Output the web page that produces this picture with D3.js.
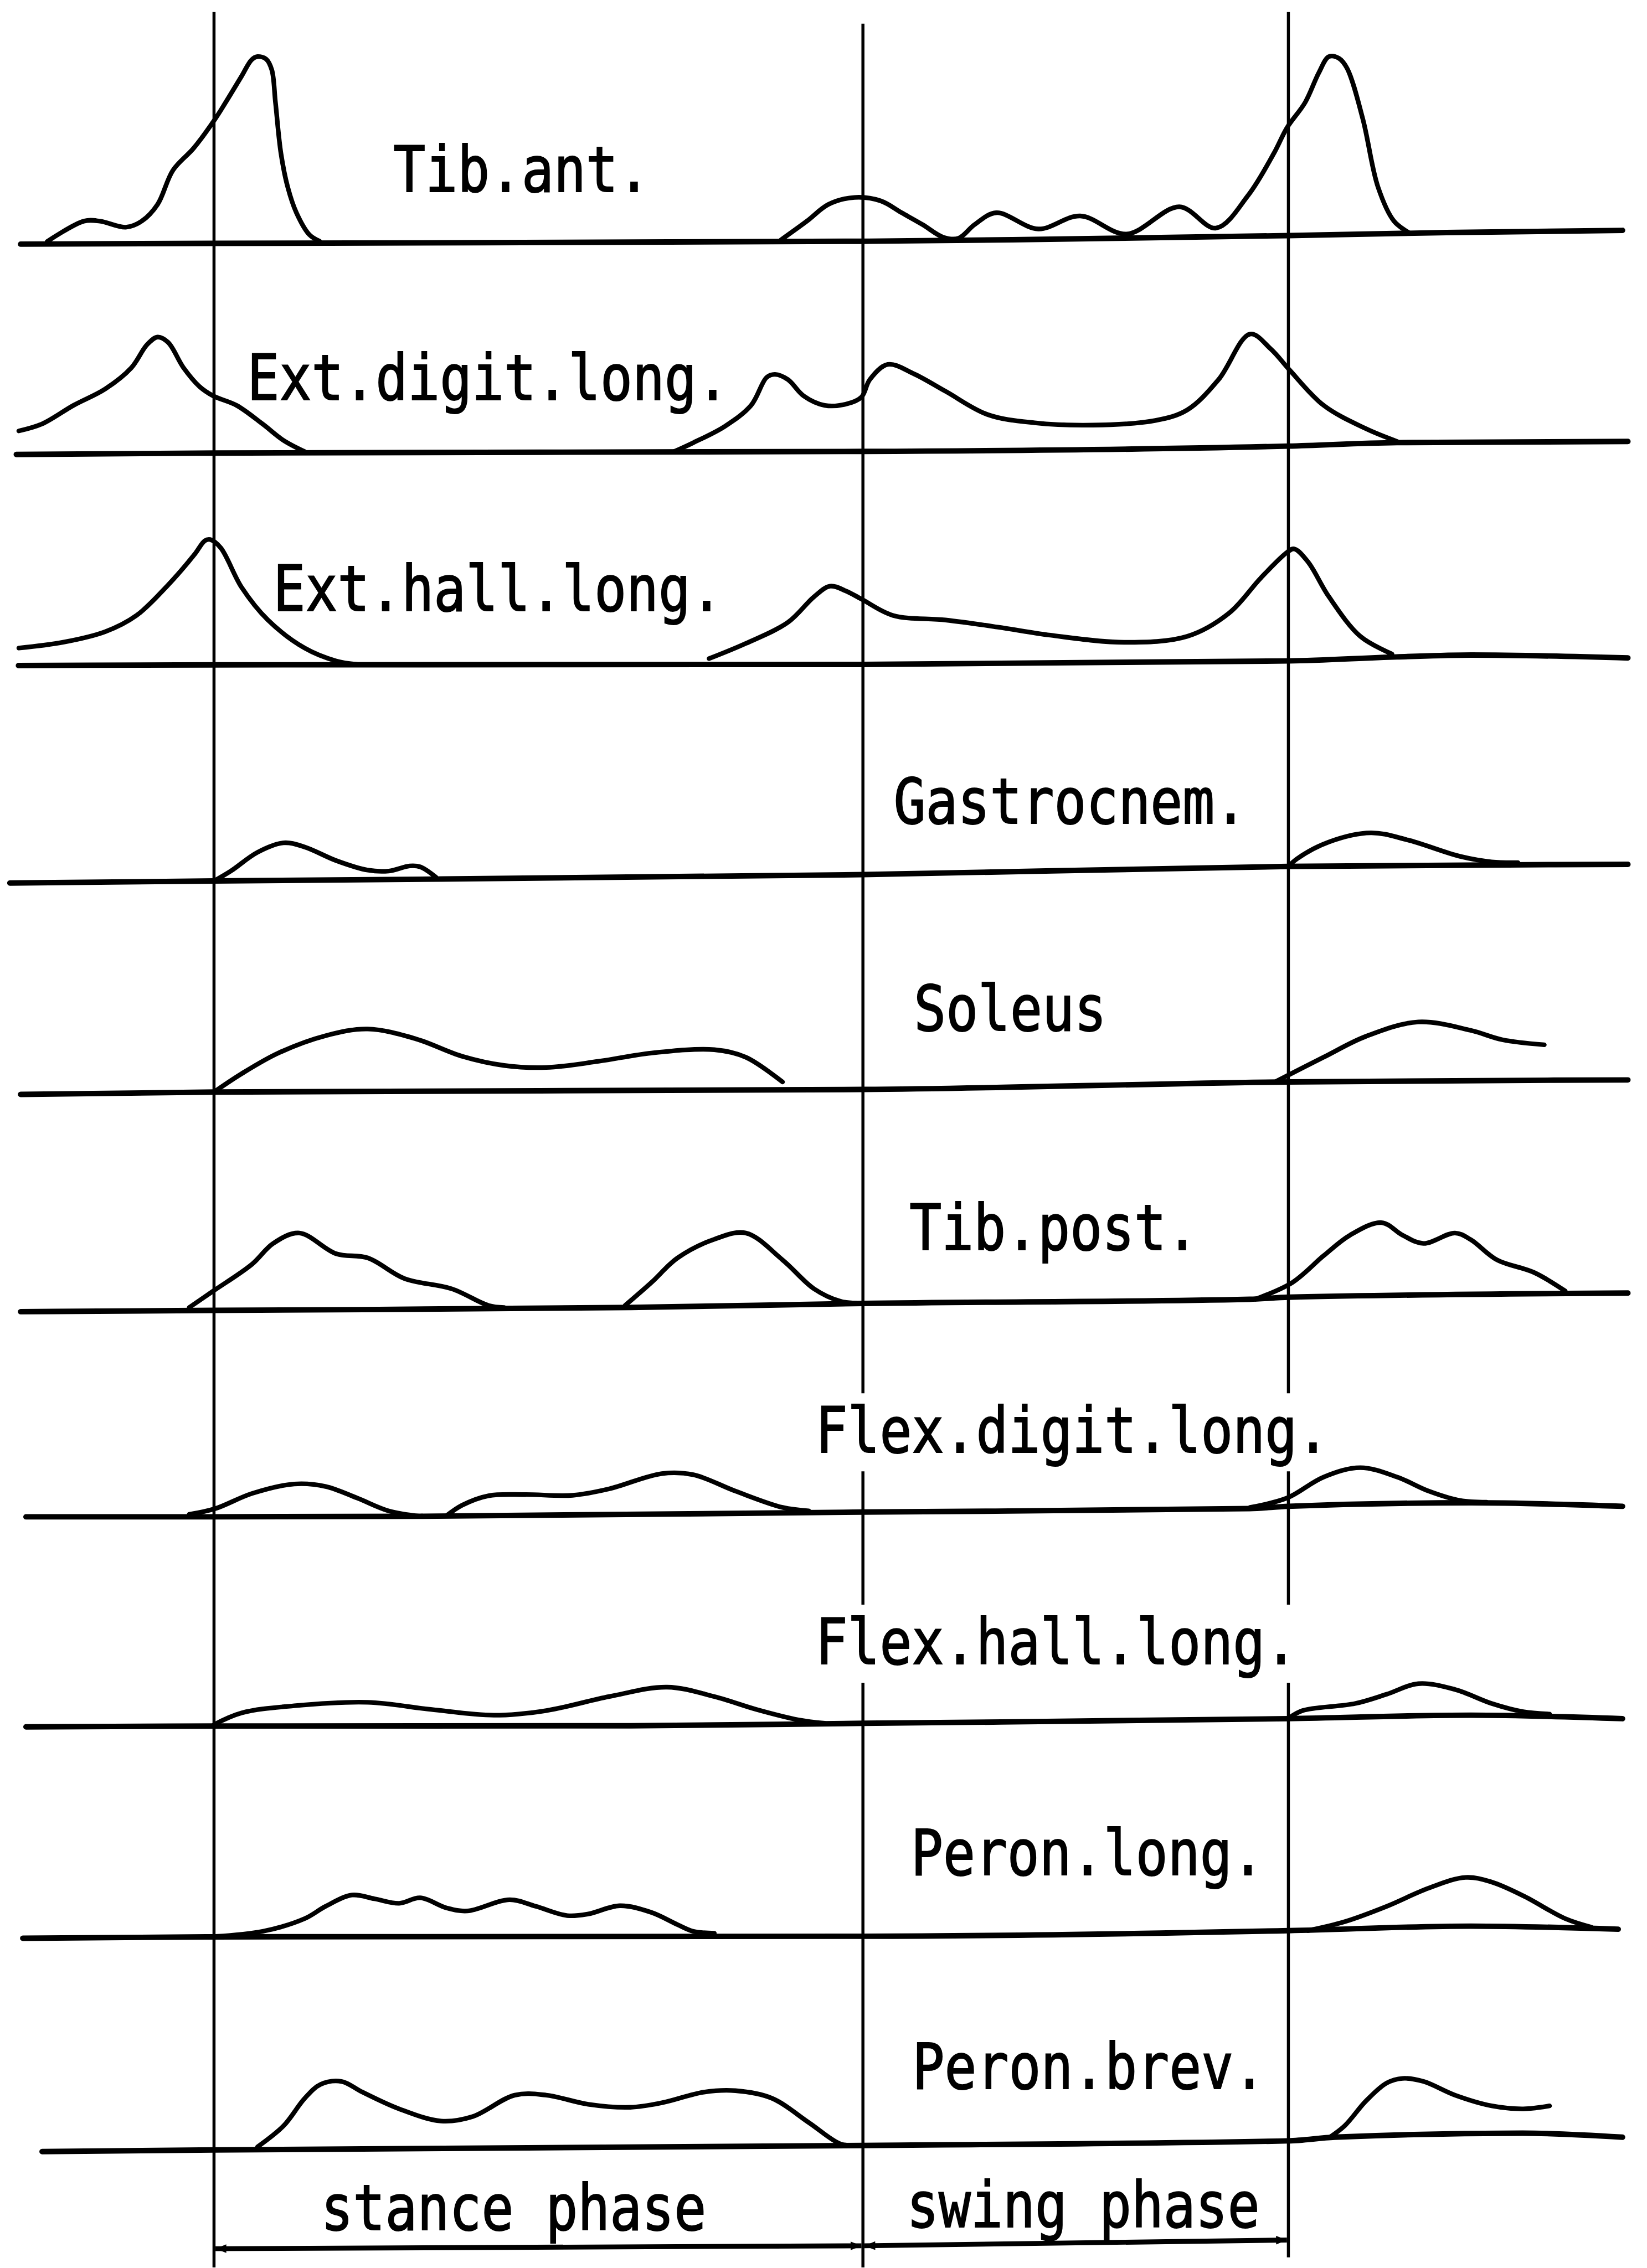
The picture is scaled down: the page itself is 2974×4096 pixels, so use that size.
<!DOCTYPE html>
<html>
<head>
<meta charset="utf-8">
<script src="https://cdn.jsdelivr.net/npm/d3@7"></script>
<style>
  html, body { margin: 0; padding: 0; background: #fff; }
  svg { display: block; }
</style>
</head>
<body>
<script>
// EMG activity of the lower-leg muscles over one gait cycle.
// x: percent of the gait cycle (0 = heel strike, 60.4 = toe off, 100 = next heel strike)
// y: activity above the row's reference level (arbitrary units)

const muscles = ["Tib.ant.", "Ext.digit.long.", "Ext.hall.long.", "Gastrocnem.", "Soleus",
                 "Tib.post.", "Flex.digit.long.", "Flex.hall.long.", "Peron.long.", "Peron.brev."];

const cycleEvents = [0, 60.4, 100];          // heel strike, toe off, heel strike
const phases = ["stance phase", "swing phase"];

// zero lines (slightly drifting)
const tibAntBase   = [[-18.0,-0.5],[0,0],[60.4,1.5],[74.3,2.5],[100,5.4],[114.7,7.5],[131.1,9]];
const extDigBase   = [[-18.4,-1],[0,0],[60.4,1.1],[100,4.8],[110.1,7.2],[131.6,8]];
const extHallBase  = [[-18.2,-0.5],[0,0],[60.4,0.3],[100,2.7],[110.1,5.5],[117,6.8],[131.6,4.8]];
const gastroBase   = [[-19,-1.4],[0,0],[60.4,4.4],[100,10.1],[131.6,11.5]];
const soleusBase   = [[-18,-1.6],[0,0],[60.4,1.8],[100,7],[131.6,8.4]];
const tibPostBase  = [[-18,-0.9],[0,0],[38.8,2],[60.4,4.8],[96.4,7.7],[100,9.1],[131.6,12]];
const flexDigBase  = [[-17.5,0],[0,0],[19.2,0.4],[60.4,3.3],[96.4,5.7],[100,7.3],[117,9.7],[131.1,7.3]];
const flexHallBase = [[-17.5,-0.6],[0,0],[38.8,0.2],[60.4,1.9],[100,5.1],[117,7.5],[131.1,5.1]];
const peronLBase   = [[-17.8,-1],[0,0],[60.4,0.4],[100,4.3],[117,7.4],[130.7,5.3]];
const peronBBase   = [[-16,-1.1],[0,0],[60.4,3.1],[100,6.3],[104.3,8.8],[121.8,11.6],[131.1,8.8]];

// activity bursts
const tibAnt = [
  [[-15.53,1.3],[-12.11,15.4],[-10.63,15.4],[-8.21,11.2],[-6.73,15.4],[-5.25,27],[-3.82,50.6],
   [-1.88,66],[0.08,85.8],[1.08,97.5],[2.53,115.2],[3.5,127],[4.04,129.2],[4.85,127.5],[5.38,120],
   [5.72,97.5],[6.23,62.3],[6.86,39],[7.67,21.2],[8.88,6],[9.83,1.5]],
  [[52.76,2.4],[55.18,15.4],[57.2,27],[59.62,31.8],[62.05,29.4],[64.0,21.2],[65.95,13],[67.9,4.2],
   [69.31,3.6],[70.79,13],[72.81,21.2],[76.72,10],[80.62,19],[84.93,6.5],[89.85,25.3],[93.27,10.6],
   [96.23,33],[98.65,62.3],[99.87,80],[101.56,97.5],[102.83,118],[103.77,129.2],[104.71,128],
   [105.47,121],[106.93,86],[108.34,39],[109.83,15.4],[111.31,7]]
];
const extDig = [
  [[-18.17,15.3],[-16.02,20.1],[-13.07,33],[-10.13,44.3],[-7.7,58.9],[-6.23,75],[-5.25,80.2],
   [-4.28,76.6],[-2.83,58.9],[-1.35,46],[-0.07,39.5],[2.09,33],[4.52,20.1],[6.46,8.8],[8.44,1]],
  [[42.66,0.5],[44.62,7.2],[47.55,18.5],[49.99,33],[51.45,52.4],[52.22,54.4],[53.42,50.8],[54.89,39.5],
   [56.84,33],[58.79,33.8],[60.26,38.7],[61.04,50.8],[62.71,61.3],[65.14,54.8],[68.09,42.7],[72.01,26.6],
   [76.39,20.9],[81.78,19.3],[87.62,22.5],[90.58,29.8],[93.5,50.8],[96.43,82.3],[98.38,71.8],
   [100.13,57.3],[103.28,33],[107.2,16.9],[110.13,8]]
];
const extHall = [
  [[-18.17,11.6],[-14.05,15.6],[-10.13,22.9],[-7.21,34.2],[-4.28,55.2],[-1.83,76.2],[-0.85,85.9],
   [-0.36,86.7],[0.62,81],[2.57,53.6],[5.02,31],[8.44,11.6],[11.37,2.7],[13.32,0.3]],
  [[46.08,4.3],[49.5,14.8],[53.42,29.4],[55.85,47.1],[57.34,54.4],[58.79,51.2],[60.26,45.5],[63.19,34.2],
   [68.09,31],[72.97,26.1],[77.86,20.5],[84.71,15.6],[90.58,19.7],[94.48,35.8],[97.42,60],[99.87,77.8],
   [100.54,80.2],[101.82,71.3],[103.77,47.1],[106.7,19.7],[109.64,7.5]]
];
const gastro = [
  [[0,0],[1.59,7],[4.04,19.8],[6.49,26.4],[8.44,23.5],[11.37,14.1],[14.31,7.5],[16.26,6.9],
   [18.21,10.4],[19.19,9.8],[20.66,2.6]],
  [[100,10],[100.83,15.5],[103.77,27],[107.67,33.3],[111.1,28.4],[115.99,17],[118.92,13.2],[121.37,12.7]]
];
const soleus = [
  [[0.13,0.7],[2.57,12.7],[5.99,27],[10.39,39],[14.31,43.6],[18.71,37],[23.11,24.7],[27.01,18.4],
   [30.93,17],[35.8,21.3],[40.7,27],[46.57,29.3],[49.5,24.1],[52.92,7]],
  [[98.88,7.5],[103.28,24.1],[107.2,38.5],[112.09,48.5],[116.96,42.7],[119.91,36.2],[123.82,32.7]]
];
const tibPost = [
  [[-2.31,2],[-0.07,13.4],[3.55,32],[5.5,46.3],[7.94,53.5],[11.37,39.2],[14.31,36.3],[17.73,22],
   [22.13,14.9],[25.55,3.4],[27.01,2]],
  [[38.26,3.4],[40.7,19.2],[43.15,36.3],[46.57,49.2],[49.5,53.5],[52.92,34.9],[55.85,14.9],[58.3,6.3],[59.76,5]],
  [[96.93,7.7],[100.35,19.2],[103.28,37.8],[105.73,52],[108.67,60.7],[110.63,52],[112.57,46.3],
   [115.51,53.5],[116.96,49],[119.42,34.9],[122.84,26.3],[125.77,13.4]]
];
const flexDig = [
  [[-2.31,1.7],[0.12,5.7],[3.55,16.2],[7.46,22.7],[10.39,21],[13.32,13],[16.26,4.1],[19.19,0.4]],
  [[21.64,0.8],[23.11,8.1],[25.55,14.6],[28.98,15.4],[33.38,14.9],[36.8,19.4],[41.68,29.9],[44.62,29.1],
   [48.53,17.8],[52.92,6.5],[55.37,4.1]],
  [[96.43,6.5],[99.87,13],[103.28,27.5],[106.7,34],[110.13,27.5],[113.06,17.8],[115.99,11.3],[118.44,10.1]]
];
const flexHall = [
  [[0,1],[2.57,9.1],[7.46,14],[14.31,16.4],[20.17,11.5],[26.04,7.5],[30.93,10.7],[36.8,20.4],
   [42.17,26.9],[46.57,20.4],[50.48,11.5],[54.39,4.3],[56.84,1.9]],
  [[100.13,5.9],[101.33,10.7],[106.22,15.6],[109.15,22],[112.09,29.3],[115.51,25.3],[118.92,15.6],
   [121.86,9.9],[124.31,8.3]]
];
const peronL = [
  [[0.13,0.3],[4.52,3.8],[8.44,12.6],[10.39,21.1],[12.84,28.9],[14.94,26.3],[17.23,23.2],[19.19,27],
   [21.64,20],[23.59,17.9],[27.51,25.7],[29.95,21.1],[32.88,14.7],[34.83,15.8],[37.77,21.5],[40.7,16.9],
   [43.15,8.4],[44.62,3.8],[46.57,2.5]],
  [[101.82,4.3],[105.25,10.5],[109.15,21.1],[113.06,33.7],[116.49,41.1],[118.92,37.9],[121.86,28.4],
   [125.77,12.6],[128.21,6.7]]
];
const peronB = [
  [[4.04,2.1],[6.49,16.8],[8.44,35.7],[9.91,45.3],[11.86,47.4],[13.81,40],[17.23,28.4],[21.14,20],
   [24.08,23.1],[27.99,37.9],[30.93,37.9],[34.83,31.6],[38.75,29.5],[41.68,32.6],[45.6,40],[48.53,41],
   [51.95,35.7],[55.37,18.9],[58.3,4.2],[59.77,3.1]],
  [[103.77,8.4],[105.25,16.8],[107.2,33.7],[109.15,46.3],[110.63,49.5],[112.57,47.4],[115.51,37.9],
   [118.92,30.5],[121.86,28.4],[124.31,30.5]]
];

const zeroLines = [tibAntBase, extDigBase, extHallBase, gastroBase, soleusBase,
                   tibPostBase, flexDigBase, flexHallBase, peronLBase, peronBBase];
const bursts = [tibAnt, extDig, extHall, gastro, soleus, tibPost, flexDig, flexHall, peronL, peronB];

// ---- layout (drawing units; the whole sheet is 1139 x 1568) ----
const W = 1139, H = 1568;
const rowLevel = [168, 313, 459.5, 609, 755, 906, 1048.8, 1193.5, 1339.3, 1486.7];
const labelPos = [[274, -36], [173, -37], [191, -37.5], [620, -40], [634, -42.5],
                  [631, -42], [566, -44.5], [566, -43], [632, -43], [633, -42.5]];
const lineTop = [8, 16, 8];
const lineBottom = [H, H, 1561];
const charW = 22.2, fontSize = 44, squeeze = charW / (0.602 * fontSize);

const svg = d3.select("body").append("svg")
  .attr("width", 2974).attr("height", 4096)
  .attr("viewBox", `0 0 ${W} ${H}`);

const x = d3.scaleLinear().domain([0, 100]).range([148, 891]);

const rows = muscles.map((name, i) => ({
  name, base: zeroLines[i], bursts: bursts[i],
  y: d3.scaleLinear().domain([0, 100]).range([rowLevel[i], rowLevel[i] - 100]),
  label: labelPos[i]
}));

// vertical event lines, interrupted where a label runs across them
const gaps = [];
rows.forEach(r => {
  const x0 = r.label[0], x1 = x0 + r.name.length * charW;
  const yb = r.y(0) + r.label[1];
  gaps.push({ x0, x1, y0: yb - 41, y1: yb + 13 });
});
cycleEvents.forEach((ev, k) => {
  const xp = x(ev);
  let segs = [[lineTop[k], lineBottom[k]]];
  gaps.filter(g => xp > g.x0 && xp < g.x1).forEach(g => {
    segs = segs.flatMap(([a, b]) => {
      if (g.y1 <= a || g.y0 >= b) return [[a, b]];
      const out = [];
      if (g.y0 > a) out.push([a, g.y0]);
      if (g.y1 < b) out.push([g.y1, b]);
      return out;
    });
  });
  svg.append("g").selectAll("line").data(segs).join("line")
    .attr("x1", xp).attr("x2", xp)
    .attr("y1", d => d[0]).attr("y2", d => d[1])
    .attr("stroke", "#000").attr("stroke-width", 2.1);
});

rows.forEach(r => {
  const g = svg.append("g");
  const line = d3.line().x(d => x(d[0])).y(d => r.y(d[1]));
  g.append("path")
    .attr("d", line.curve(d3.curveMonotoneX)(r.base))
    .attr("fill", "none").attr("stroke", "#000").attr("stroke-width", 3.8)
    .attr("stroke-linecap", "round");
  const burstLine = d3.line().x(d => x(d[0])).y(d => r.y(d[1]))
    .curve(d3.curveCatmullRom.alpha(0.5));
  g.selectAll("path.burst").data(r.bursts).join("path")
    .attr("class", "burst")
    .attr("d", burstLine)
    .attr("fill", "none").attr("stroke", "#000").attr("stroke-width", 3.2)
    .attr("stroke-linejoin", "round").attr("stroke-linecap", "round");
  g.append("text")
    .attr("transform", `translate(${r.label[0] - 2},${r.y(0) + r.label[1]}) scale(${squeeze},1)`)
    .attr("font-family", "'DejaVu Sans Mono', monospace")
    .attr("font-size", fontSize)
    .attr("fill", "#000")
    .attr("stroke", "#000").attr("stroke-width", 0.8)
    .text(r.name);
});

// phase brackets with arrowheads
svg.append("defs").append("marker")
  .attr("id", "arrow").attr("viewBox", "0 0 10 8")
  .attr("refX", 10).attr("refY", 4)
  .attr("markerWidth", 9).attr("markerHeight", 6)
  .attr("markerUnits", "userSpaceOnUse")
  .attr("orient", "auto-start-reverse")
  .append("path").attr("d", "M0,0 L10,4 L0,8 Z").attr("fill", "#000");

const phaseY = [[1555, 1553], [1553, 1549]];
const phaseText = [[224, 1542], [629, 1540]];
phases.forEach((p, k) => {
  svg.append("line")
    .attr("x1", x(cycleEvents[k]) + 1).attr("x2", x(cycleEvents[k + 1]) - 1)
    .attr("y1", phaseY[k][0]).attr("y2", phaseY[k][1])
    .attr("stroke", "#000").attr("stroke-width", 3.4)
    .attr("marker-start", "url(#arrow)").attr("marker-end", "url(#arrow)");
  svg.append("text")
    .attr("transform", `translate(${phaseText[k][0] - 2},${phaseText[k][1]}) scale(${squeeze},1)`)
    .attr("font-family", "'DejaVu Sans Mono', monospace")
    .attr("font-size", fontSize)
    .attr("fill", "#000")
    .attr("stroke", "#000").attr("stroke-width", 0.8)
    .text(p);
});
</script>
</body>
</html>
